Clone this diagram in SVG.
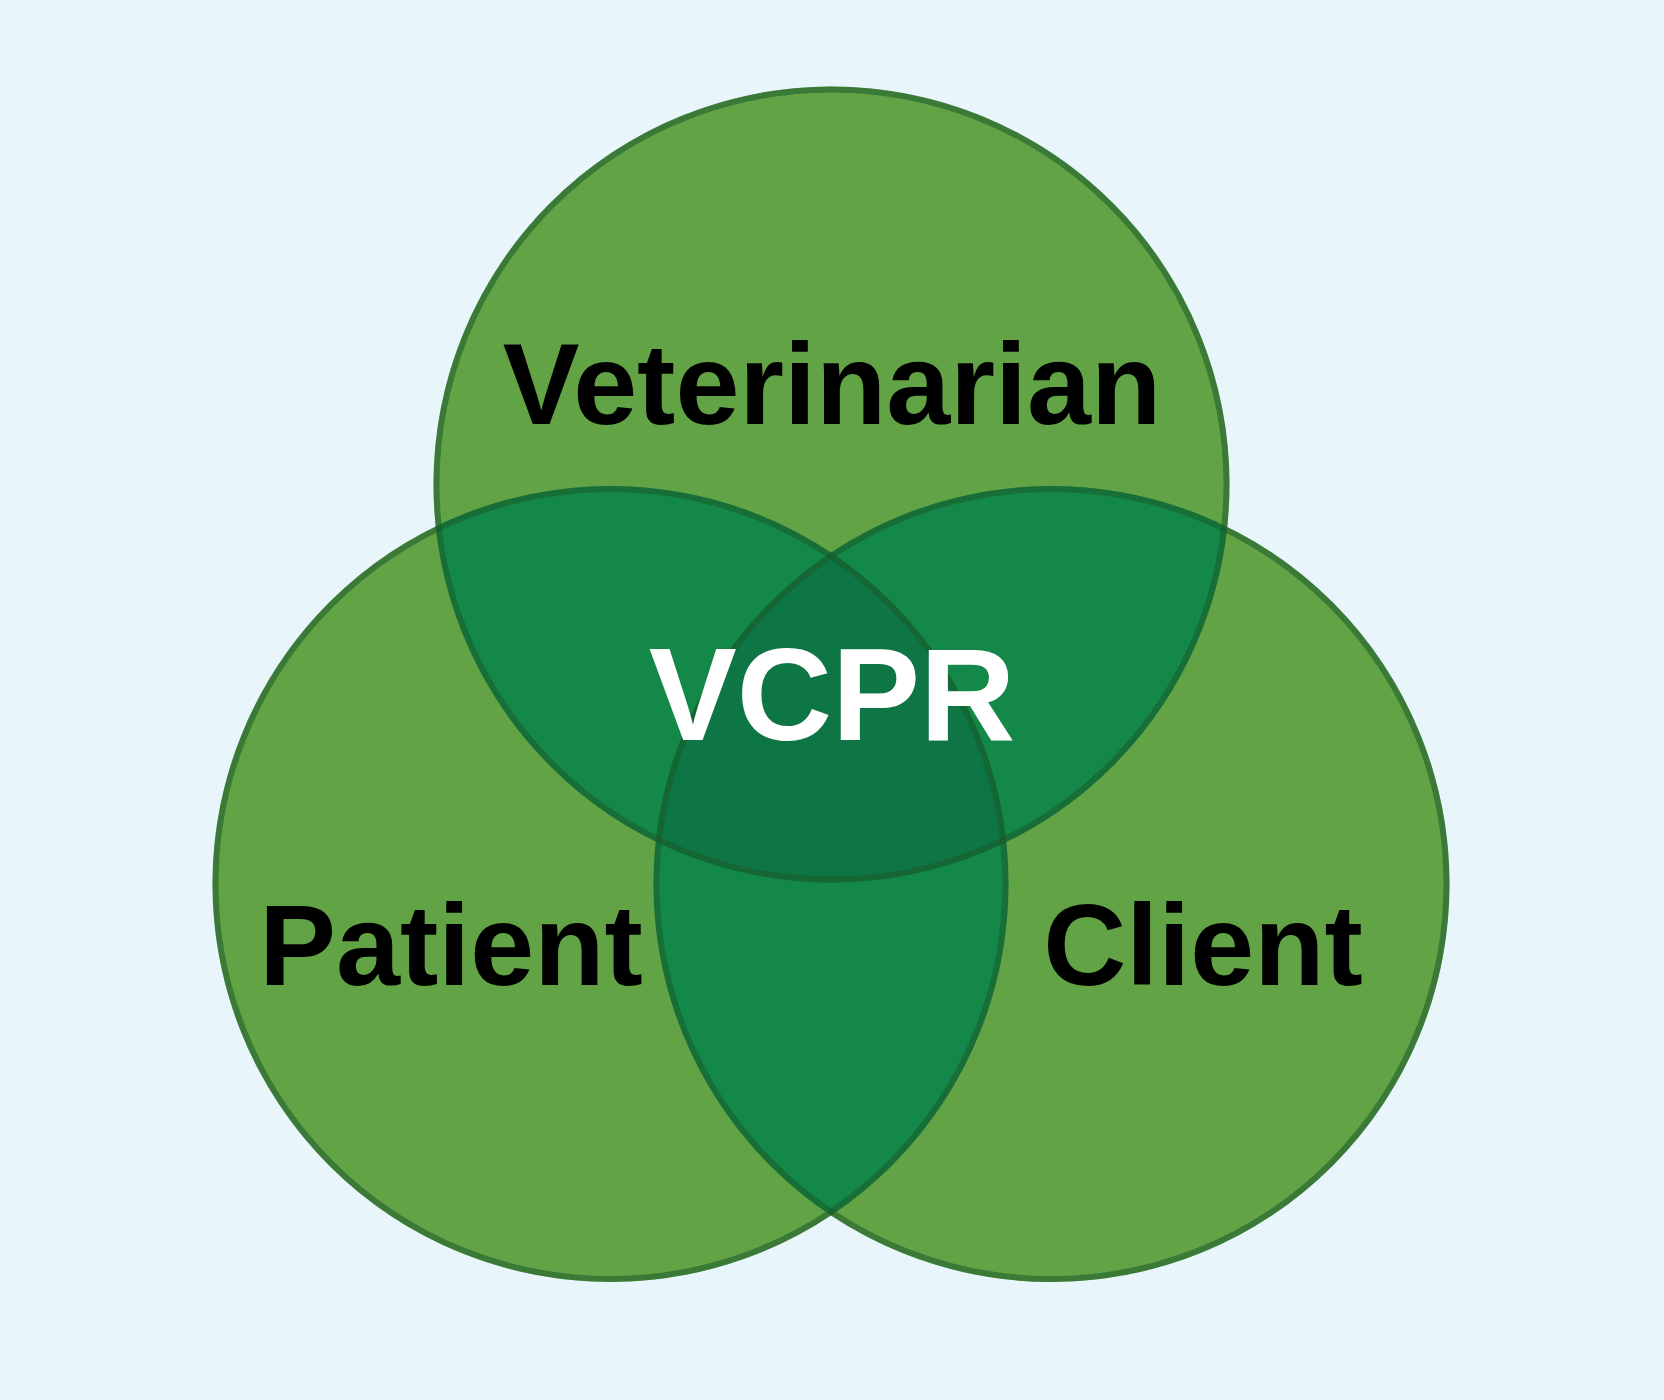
<svg xmlns="http://www.w3.org/2000/svg" width="1664" height="1400" viewBox="0 0 1664 1400">
<style>
.lbl{font-family:"Liberation Sans",Arial,sans-serif;font-weight:bold;text-anchor:middle}
.ring{fill:none;stroke:#1a5a2a;stroke-opacity:0.55;stroke-width:6}
.base{fill:#62a346}
.two{fill:#148848}
</style>
<defs>
<clipPath id="cT"><circle cx="831.5" cy="484.5" r="398"/></clipPath>
<clipPath id="cL"><circle cx="610.5" cy="884" r="398"/></clipPath>
<clipPath id="cR"><circle cx="1051.5" cy="884" r="398"/></clipPath>
</defs>
<rect width="1664" height="1400" fill="#e8f5fb"/>
<g id="fills">
<circle class="base" cx="831.5" cy="484.5" r="398"/>
<circle class="base" cx="610.5" cy="884" r="398"/>
<circle class="base" cx="1051.5" cy="884" r="398"/>
<g clip-path="url(#cT)"><circle class="two" cx="610.5" cy="884" r="398"/><circle class="two" cx="1051.5" cy="884" r="398"/></g>
<g clip-path="url(#cL)"><circle class="two" cx="1051.5" cy="884" r="398"/></g>
<g clip-path="url(#cT)"><g clip-path="url(#cL)"><circle cx="1051.5" cy="884" r="398" fill="#0e7644"/></g></g>
</g>
<g id="connectors"></g>
<g id="veterinarian"><circle class="ring" cx="831.5" cy="484.5" r="395"/><text class="lbl" x="832" y="424" font-size="115">Veterinarian</text></g>
<g id="patient"><circle class="ring" cx="610.5" cy="884" r="395"/><text class="lbl" x="451" y="985" font-size="115">Patient</text></g>
<g id="client"><circle class="ring" cx="1051.5" cy="884" r="395"/><text class="lbl" x="1203" y="985" font-size="115">Client</text></g>
<g id="vcpr"><text class="lbl" x="832" y="740" font-size="132" fill="#ffffff">VCPR</text></g>
</svg>
